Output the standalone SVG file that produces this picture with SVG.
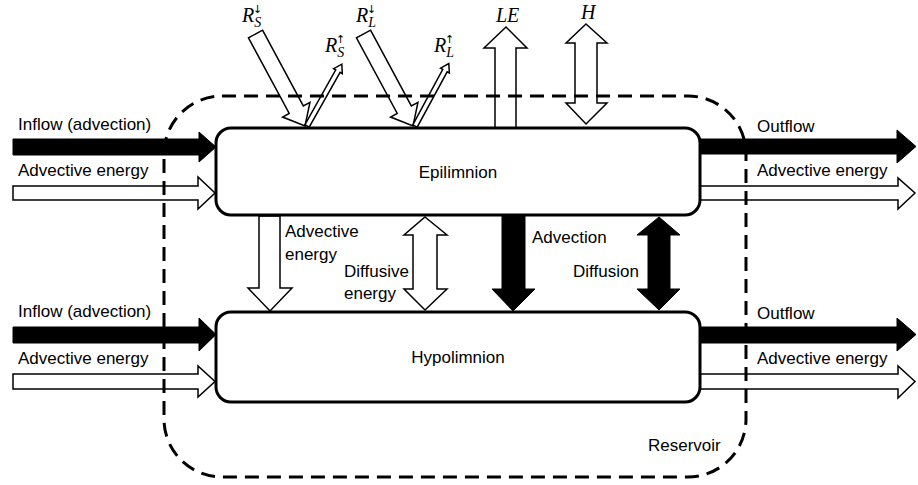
<svg xmlns="http://www.w3.org/2000/svg" width="918" height="485" viewBox="0 0 918 485">
<style>
.t{font-family:"Liberation Sans",Arial,sans-serif;font-size:17px;fill:#000}
.m{font-family:"Liberation Serif","Times New Roman",serif;font-style:italic;font-size:20px;fill:#000}
.ar{font-family:"DejaVu Sans",sans-serif;font-style:normal;font-size:11px;fill:#000}
.hol{fill:#fff;stroke:#000;stroke-width:1.5;stroke-linejoin:miter}
.blk{fill:#000;stroke:#000;stroke-width:1}
.box{fill:#fff;stroke:#000;stroke-width:3}
.res{fill:none;stroke:#000;stroke-width:3;stroke-dasharray:14 8}
</style>
<rect width="918" height="485" fill="#fff"/>
<g id="connectors">
  <polygon class="blk" points="13,139 199,139 199,132 216,147 199,162 199,155 13,155"/>
  <polygon class="hol" points="13,186 198,186 198,177 215,193 198,209 198,200 13,200"/>
  <polygon class="blk" points="700,139 897,139 897,130 916,146.5 897,163 897,154 700,154"/>
  <polygon class="hol" points="700,186 898,186 898,178 915,193 898,209 898,200 700,200"/>
  <polygon class="blk" points="13,327 199,327 199,318 216,334.5 199,351 199,343 13,343"/>
  <polygon class="hol" points="13,374 198,374 198,366 215,381.5 198,397 198,389 13,389"/>
  <polygon class="blk" points="700,327 897,327 897,318 916,334.5 897,351 897,343 700,343"/>
  <polygon class="hol" points="700,374 898,374 898,366 915,381.5 898,398 898,389 700,389"/>
  <polygon class="hol" points="259,216 280,216 280,288 292,288 270,311 248,288 259,288"/>
  <polygon class="hol" points="425,217 447,235 437,235 437,289 447,289 425,310 404,289 413,289 413,235 404,235"/>
  <polygon class="blk" points="502,216 525,216 525,289 535,289 513,311 492,289 502,289"/>
  <polygon class="blk" points="659,217 680,235 670,235 670,289 680,289 659,310 637,289 648,289 648,235 637,235"/>
  <polygon class="hol" transform="translate(255.5,34) rotate(61.7)" points="0,-8 86,-8 86,-15.5 104.5,0 86,15.5 86,8 0,8"/>
  <polygon class="hol" transform="translate(307,126) rotate(-60.6)" points="0,-2.5 63,-2.5 63,-5 71,0 63,5 63,2.5 0,2.5"/>
  <polygon class="hol" transform="translate(363.5,34) rotate(61.7)" points="0,-8 86,-8 86,-15.5 104.5,0 86,15.5 86,8 0,8"/>
  <polygon class="hol" transform="translate(415,126) rotate(-61.6)" points="0,-2.5 63,-2.5 63,-5 71,0 63,5 63,2.5 0,2.5"/>
  <polygon class="hol" points="495,128 495,48 484,48 506,27 527,48 516,48 516,128"/>
  <polygon class="hol" points="586,24 607,43 597,43 597,103 607,103 586,124 566,103 575,103 575,43 566,43"/>
</g>
<g id="reservoir">
  <rect class="res" x="164" y="96" width="582" height="381" rx="58" ry="58"/>
  <text class="t" x="648" y="451">Reservoir</text>
</g>
<g id="epilimnion">
  <rect class="box" x="216" y="128" width="484" height="87" rx="15" ry="15"/>
  <text class="t" x="458" y="178" text-anchor="middle">Epilimnion</text>
</g>
<g id="hypolimnion">
  <rect class="box" x="216" y="312" width="484" height="90" rx="15" ry="15"/>
  <text class="t" x="458" y="363" text-anchor="middle">Hypolimnion</text>
</g>
<g id="labels">
  <text class="t" x="18" y="130">Inflow (advection)</text>
  <text class="t" x="18" y="176">Advective energy</text>
  <text class="t" x="18" y="317">Inflow (advection)</text>
  <text class="t" x="18" y="364">Advective energy</text>
  <text class="t" x="757" y="132">Outflow</text>
  <text class="t" x="757" y="176">Advective energy</text>
  <text class="t" x="757" y="319">Outflow</text>
  <text class="t" x="757" y="364">Advective energy</text>
  <text class="t" x="285" y="237">Advective</text>
  <text class="t" x="285" y="260">energy</text>
  <text class="t" x="344" y="277">Diffusive</text>
  <text class="t" x="344" y="299">energy</text>
  <text class="t" x="532" y="243">Advection</text>
  <text class="t" x="573" y="277">Diffusion</text>
  <text class="m" x="242" y="22">R<tspan font-size="14" dy="5">S</tspan></text>
  <text class="ar" x="253" y="13">↓</text>
  <text class="m" x="325" y="52">R<tspan font-size="14" dy="5">S</tspan></text>
  <text class="ar" x="336" y="43">↑</text>
  <text class="m" x="356" y="22">R<tspan font-size="14" dy="5">L</tspan></text>
  <text class="ar" x="367" y="13">↓</text>
  <text class="m" x="434" y="52">R<tspan font-size="14" dy="5">L</tspan></text>
  <text class="ar" x="445" y="43">↑</text>
  <text class="m" x="496" y="22">LE</text>
  <text class="m" x="581" y="19">H</text>
</g>
</svg>
